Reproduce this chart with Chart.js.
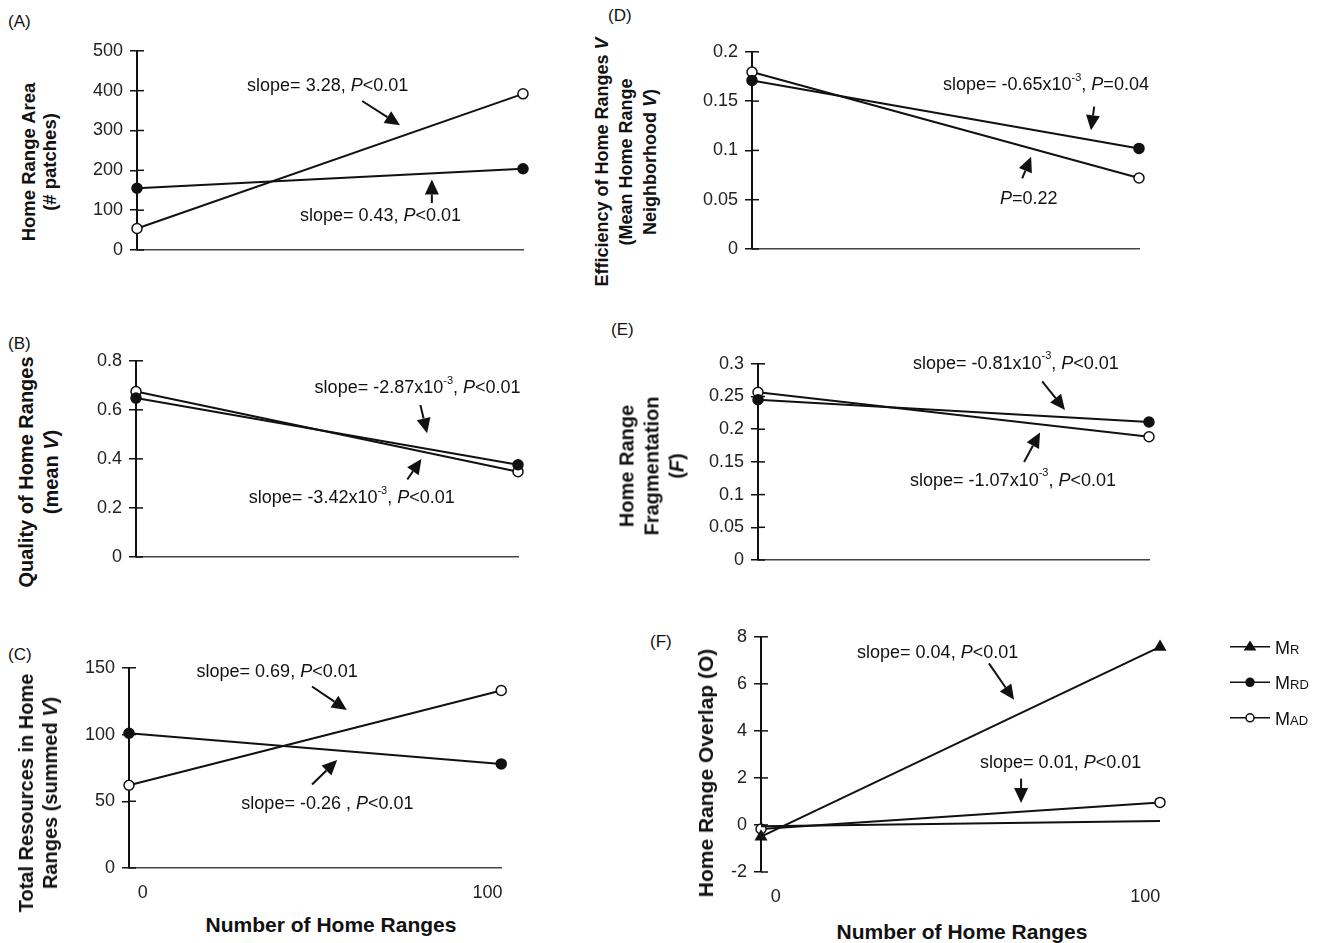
<!DOCTYPE html>
<html>
<head>
<meta charset="utf-8">
<script src="https://cdn.jsdelivr.net/npm/chart.js@4.4.1/dist/chart.umd.min.js"></script>
<style>
  html, body { margin: 0; padding: 0; background: #fff; }
  #fig { position: relative; width: 1325px; height: 943px; background: #fff; overflow: hidden;
         font-family: "Liberation Sans", Arial, sans-serif; color: #111; }
  #fig canvas { position: absolute; }
  .lbl { position: absolute; font-size: 17px; }
  .ytitle { position: absolute; font-weight: bold; text-align: center;
            white-space: nowrap; transform: translate(-50%, -50%) rotate(-90deg); }
  .xtitle { position: absolute; font-weight: bold; font-size: 21px; white-space: nowrap; transform: translate(-50%, -50%); }
</style>
</head>
<body>
<div id="fig">
  <canvas id="chartA"></canvas>
  <canvas id="chartB"></canvas>
  <canvas id="chartC"></canvas>
  <canvas id="chartD"></canvas>
  <canvas id="chartE"></canvas>
  <canvas id="chartF"></canvas>

  <div class="lbl" style="left:8px;top:12px">(A)</div>
  <div class="lbl" style="left:8px;top:334px">(B)</div>
  <div class="lbl" style="left:8px;top:645px">(C)</div>
  <div class="lbl" style="left:608px;top:6px">(D)</div>
  <div class="lbl" style="left:611px;top:320px">(E)</div>
  <div class="lbl" style="left:650px;top:632px">(F)</div>

  <div class="ytitle" style="left:39px;top:162px;font-size:18.5px;line-height:21px">Home Range Area<br>(# patches)</div>
  <div class="ytitle" style="left:39px;top:472px;font-size:20px;line-height:25px">Quality of Home Ranges<br>(mean <i>V</i>)</div>
  <div class="ytitle" style="left:38px;top:793px;font-size:20px;line-height:24px">Total Resources in Home<br>Ranges (summed <i>V</i>)</div>
  <div class="ytitle" style="left:626px;top:162px;font-size:18px;line-height:24px">Efficiency of Home Ranges <i>V</i><br>(Mean Home Range<br>Neighborhood <i>V</i>)</div>
  <div class="ytitle" style="left:652px;top:466px;font-size:20px;line-height:25px">Home Range<br>Fragmentation<br>(<i>F</i>)</div>
  <div class="ytitle" style="left:706px;top:773px;font-size:21px">Home Range Overlap (O)</div>

  <div class="xtitle" style="left:331px;top:925px">Number of Home Ranges</div>
  <div class="xtitle" style="left:962px;top:932px">Number of Home Ranges</div>
</div>

<script>
// ---- data ----
const homeRanges = [-4, 104];
const xTickLabels = [0, 100];

const areaMrd = [155, 204];
const areaMad = [54, 392];
const areaTicks = [0, 100, 200, 300, 400, 500];

const qualityMrd = [0.648, 0.376];
const qualityMad = [0.675, 0.348];
const qualityTicks = [0, 0.2, 0.4, 0.6, 0.8];

const resourcesMrd = [101, 78];
const resourcesMad = [62, 133];
const resourcesTicks = [0, 50, 100, 150];

const efficiencyMrd = [0.171, 0.102];
const efficiencyMad = [0.1795, 0.072];
const efficiencyTicks = [0, 0.05, 0.1, 0.15, 0.2];

const fragMrd = [0.245, 0.211];
const fragMad = [0.2565, 0.1885];
const fragTicks = [0, 0.05, 0.1, 0.15, 0.2, 0.25, 0.3];

const overlapMr = [-0.5, 7.57];
const overlapMrd = [-0.05, 0.17];
const overlapMad = [-0.17, 0.96];
const overlapTicks = [-2, 0, 2, 4, 6, 8];

const legendLabels = ['MR', 'MRD', 'MAD'];

// ---- layout helpers ----
const FONT = '"Liberation Sans", Arial, sans-serif';
const INK = '#111';
const PAD_T = 14, PAD_R = 14, YW = 70, XH = 44;

const toPoints = (ys) => ys.map((v, i) => ({ x: homeRanges[i], y: v }));

const seriesStyle = {
    MR:  { pointStyle: 'triangle', pointRadius: 6, pointBackgroundColor: INK, pointBorderColor: INK },
    MRD: { pointStyle: 'circle', pointRadius: 5, pointBackgroundColor: INK, pointBorderColor: INK },
    MAD: { pointStyle: 'circle', pointRadius: 5, pointBackgroundColor: '#fff', pointBorderColor: INK }
};

const drawRich = (ctx, str, x, y, size) => {
    const parts = str.split(/(\*[^*]+\*|\^[^^]+\^)/).filter(Boolean);
    ctx.textBaseline = 'middle';
    ctx.textAlign = 'left';
    ctx.fillStyle = INK;
    let cx = x;
    parts.forEach(p => {
        let font = `${size}px ${FONT}`, dy = 0, t = p;
        if (p[0] === '*') { font = `italic ${size}px ${FONT}`; t = p.slice(1, -1); }
        else if (p[0] === '^') { font = `${Math.round(size * 0.62)}px ${FONT}`; dy = -size * 0.42; t = p.slice(1, -1); }
        ctx.font = font;
        ctx.fillText(t, cx, y + dy);
        cx += ctx.measureText(t).width;
    });
};

const drawArrow = (ctx, x1, y1, x2, y2) => {
    const ang = Math.atan2(y2 - y1, x2 - x1), L = 15, W = 7;
    const bx = x2 - L * Math.cos(ang), by = y2 - L * Math.sin(ang);
    ctx.strokeStyle = INK;
    ctx.fillStyle = INK;
    ctx.lineWidth = 2;
    ctx.beginPath();
    ctx.moveTo(x1, y1);
    ctx.lineTo(bx, by);
    ctx.stroke();
    ctx.beginPath();
    ctx.moveTo(x2, y2);
    ctx.lineTo(bx - W * Math.sin(ang), by + W * Math.cos(ang));
    ctx.lineTo(bx + W * Math.sin(ang), by - W * Math.cos(ang));
    ctx.closePath();
    ctx.fill();
};

const drawLegend = (ctx, x0, y0) => {
    const keys = ['MR', 'MRD', 'MAD'];
    legendLabels.forEach((label, i) => {
        const yy = y0 + i * 35.5;
        const st = seriesStyle[keys[i]];
        ctx.strokeStyle = INK;
        ctx.lineWidth = 1.5;
        ctx.beginPath();
        ctx.moveTo(x0, yy);
        ctx.lineTo(x0 + 40, yy);
        ctx.stroke();
        ctx.fillStyle = st.pointBackgroundColor;
        ctx.beginPath();
        if (st.pointStyle === 'triangle') {
            ctx.moveTo(x0 + 20, yy - 5);
            ctx.lineTo(x0 + 25, yy + 3);
            ctx.lineTo(x0 + 15, yy + 3);
            ctx.closePath();
        } else {
            ctx.arc(x0 + 20, yy, 4, 0, Math.PI * 2);
        }
        ctx.fill();
        ctx.stroke();
        ctx.fillStyle = INK;
        ctx.textBaseline = 'alphabetic';
        ctx.textAlign = 'left';
        ctx.font = `18px ${FONT}`;
        ctx.fillText(label[0], x0 + 45, yy + 7);
        const w = ctx.measureText(label[0]).width;
        ctx.font = `13px ${FONT}`;
        ctx.fillText(label.slice(1), x0 + 45 + w, yy + 7);
    });
};

const notesPlugin = (notes, arrows, legend) => ({
    id: 'notes',
    afterDatasetsDraw(chart) {
        const { ctx, scales: { x, y } } = chart;
        ctx.save();
        // inner half of the crossing tick marks
        ctx.strokeStyle = INK;
        ctx.lineWidth = 1.5;
        y.ticks.forEach(t => {
            const py = y.getPixelForValue(t.value);
            ctx.beginPath();
            ctx.moveTo(x.left, py);
            ctx.lineTo(x.left + 7, py);
            ctx.stroke();
        });
        arrows.forEach(a => drawArrow(ctx,
            x.getPixelForValue(a.from[0]), y.getPixelForValue(a.from[1]),
            x.getPixelForValue(a.to[0]), y.getPixelForValue(a.to[1])));
        notes.forEach(n => drawRich(ctx, n.text, x.getPixelForValue(n.x), y.getPixelForValue(n.y), 18));
        if (legend) drawLegend(ctx, x.right + 70, y.top + 10);
        ctx.restore();
    }
});

const createPanel = (id, g, datasets, yTicks, notes, arrows) => {
    const canvas = document.getElementById(id);
    const left = g.axisX - YW, top = g.topY - PAD_T;
    const w = g.rightX - left + PAD_R + (g.extraRight || 0);
    const h = g.bottomY - top + XH;
    canvas.style.left = left + 'px';
    canvas.style.top = top + 'px';
    canvas.width = w;
    canvas.height = h;

    return new Chart(canvas, {
        type: 'line',
        data: {
            datasets: datasets.map(d => ({
                data: toPoints(d.values),
                borderColor: INK,
                borderWidth: 2,
                pointBorderWidth: 1.5,
                clip: false,
                ...seriesStyle[d.key],
                ...(d.noMarkers ? { pointRadius: 0 } : {})
            }))
        },
        options: {
            responsive: false,
            animation: false,
            layout: { padding: { top: PAD_T, right: PAD_R + (g.extraRight || 0), left: 0, bottom: 0 } },
            plugins: { legend: { display: false }, tooltip: { enabled: false } },
            scales: {
                x: {
                    type: 'linear',
                    min: homeRanges[0],
                    max: homeRanges[1],
                    afterBuildTicks: s => { s.ticks = xTickLabels.map(v => ({ value: v })); },
                    afterFit: s => { s.height = XH; },
                    grid: { display: false, drawTicks: false },
                    border: { display: g.xBorder, color: '#444', width: 1.5 },
                    ticks: { display: g.xTicks, padding: 14, color: '#222', font: { family: FONT, size: 18 } }
                },
                y: {
                    min: yTicks[0],
                    max: yTicks[yTicks.length - 1],
                    afterBuildTicks: s => { s.ticks = yTicks.map(v => ({ value: v })); },
                    afterFit: s => { s.width = YW; },
                    grid: { drawOnChartArea: false, drawTicks: true, tickLength: 7, color: INK, lineWidth: 1.5 },
                    border: { color: INK, width: 2 },
                    ticks: {
                        padding: 7,
                        color: '#222',
                        font: { family: FONT, size: 18 },
                        callback: v => String(+Number(v).toFixed(3))
                    }
                }
            }
        },
        plugins: [notesPlugin(notes, arrows, g.legend)]
    });
};

document.addEventListener('DOMContentLoaded', () => {
    createPanel('chartA', { axisX: 137, topY: 47, bottomY: 250, rightX: 523, xBorder: true, xTicks: false },
        [{ key: 'MRD', values: areaMrd }, { key: 'MAD', values: areaMad }], areaTicks,
        [{ text: 'slope= 3.28, *P*<0.01', x: 26.8, y: 411 },
         { text: 'slope= 0.43, *P*<0.01', x: 41.6, y: 86 }],
        [{ from: [59, 374], to: [69.6, 313] },
         { from: [78.5, 118], to: [78.5, 177] }]);

    createPanel('chartB', { axisX: 136, topY: 357, bottomY: 557, rightX: 518, xBorder: true, xTicks: false },
        [{ key: 'MRD', values: qualityMrd }, { key: 'MAD', values: qualityMad }], qualityTicks,
        [{ text: 'slope= -2.87x10^-3^, *P*<0.01', x: 46.5, y: 0.688 },
         { text: 'slope= -3.42x10^-3^, *P*<0.01', x: 27.9, y: 0.24 }],
        [{ from: [76.4, 0.62], to: [78.3, 0.505] },
         { from: [72.7, 0.316], to: [76.7, 0.40] }]);

    createPanel('chartC', { axisX: 129, topY: 664, bottomY: 868, rightX: 503, xBorder: true, xTicks: true },
        [{ key: 'MRD', values: resourcesMrd }, { key: 'MAD', values: resourcesMad }], resourcesTicks,
        [{ text: 'slope= 0.69, *P*<0.01', x: 15.6, y: 147 },
         { text: 'slope= -0.26 , *P*<0.01', x: 28.6, y: 47.8 }],
        [{ from: [49.1, 136], to: [59.2, 118.4] },
         { from: [49.1, 62.5], to: [56.4, 80.9] }]);

    createPanel('chartD', { axisX: 752, topY: 48, bottomY: 249, rightX: 1139, xBorder: true, xTicks: false },
        [{ key: 'MRD', values: efficiencyMrd }, { key: 'MAD', values: efficiencyMad }], efficiencyTicks,
        [{ text: 'slope= -0.65x10^-3^, *P*=0.04', x: 49.3, y: 0.1662 },
         { text: '*P*=0.22', x: 65.2, y: 0.0507 }],
        [{ from: [91.5, 0.1445], to: [90.6, 0.1204] },
         { from: [71.4, 0.0716], to: [73.9, 0.0935] }]);

    createPanel('chartE', { axisX: 758, topY: 360, bottomY: 560, rightX: 1149, xBorder: true, xTicks: false },
        [{ key: 'MRD', values: fragMrd }, { key: 'MAD', values: fragMad }], fragTicks,
        [{ text: 'slope= -0.81x10^-3^, *P*<0.01', x: 38.8, y: 0.3 },
         { text: 'slope= -1.07x10^-3^, *P*<0.01', x: 38, y: 0.1215 }],
        [{ from: [74.5, 0.273], to: [80.8, 0.2295] },
         { from: [69.5, 0.15], to: [73.9, 0.195] }]);

    createPanel('chartF', { axisX: 761, topY: 633, bottomY: 872, rightX: 1160, extraRight: 150, xBorder: false, xTicks: true, legend: true },
        [{ key: 'MRD', values: overlapMrd, noMarkers: true }, { key: 'MR', values: overlapMr }, { key: 'MAD', values: overlapMad }], overlapTicks,
        [{ text: 'slope= 0.04, *P*<0.01', x: 22, y: 7.29 },
         { text: 'slope= 0.01, *P*<0.01', x: 55.3, y: 2.64 }],
        [{ from: [57.7, 6.87], to: [64.5, 5.32] },
         { from: [66.4, 1.97], to: [66.4, 0.93] }]);
});
</script>
</body>
</html>
